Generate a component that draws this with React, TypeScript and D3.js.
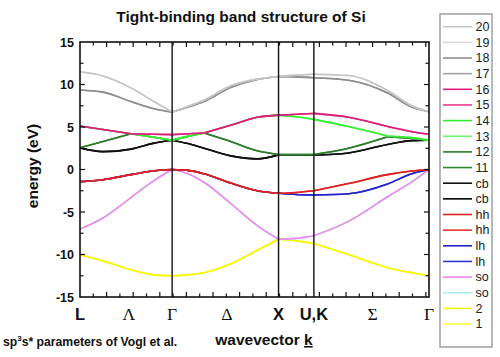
import React from "react";
import * as d3 from "d3";

// k positions along the path L - Γ - X - U,K - Γ (units of 2π/a)
const kGrid = [0, 0.216, 0.479, 0.695, 0.866, 1.015, 1.165, 1.416, 1.666, 1.866, 2.032, 2.198, 2.523, 2.891, 3.118, 3.28];
// indices where curves are broken: symmetry points, and band crossings
const symIdx = [0, 4, 9, 11, 15];
const crossIdx = [0, 2, 4, 6, 9, 11, 13, 15];

const symLabels = ["L", "Λ", "Γ", "Δ", "X", "U,K", "Σ", "Γ"];
const symLabelK = [0, 0.46, 0.866, 1.38, 1.866, 2.198, 2.75, 3.28];
const symLineK = [0.866, 1.866, 2.198];
const yTickValues = [-15, -10, -5, 0, 5, 10, 15];

// energies (eV) at kGrid
const band1 = [-10.05, -10.75, -11.8, -12.4, -12.5, -12.4, -12.15, -11.1, -9.5, -8.2, -8.4, -8.7, -10.0, -11.55, -12.15, -12.5];
const bandSo = [-7.0, -5.7, -3.3, -1.3, 0, -0.5, -1.5, -4.0, -6.6, -8.2, -8.1, -7.8, -6.1, -3.2, -1.45, 0];
const bandLh = [-1.43, -1.2, -0.6, -0.15, 0, -0.1, -0.5, -1.6, -2.5, -2.8, -2.95, -3.0, -2.85, -1.7, -0.5, 0];
const bandHh = [-1.43, -1.2, -0.6, -0.15, 0, -0.1, -0.5, -1.6, -2.5, -2.8, -2.7, -2.5, -1.65, -0.6, -0.18, 0];
const bandCb = [2.55, 2.1, 2.4, 3.1, 3.45, 3.05, 2.5, 1.6, 1.25, 1.72, 1.7, 1.68, 1.95, 2.95, 3.4, 3.45];
const band11 = [2.55, 3.3, 4.2, 3.8, 3.45, 3.9, 4.3, 3.3, 2.2, 1.75, 1.75, 1.75, 2.5, 3.85, 3.65, 3.45];
const band13 = [5.1, 4.7, 4.2, 3.8, 3.45, 3.9, 4.3, 5.2, 6.15, 6.4, 6.2, 5.9, 5.05, 3.95, 3.75, 3.45];
const band15 = [5.1, 4.7, 4.2, 4.15, 4.1, 4.2, 4.3, 5.2, 6.15, 6.4, 6.5, 6.6, 6.15, 5.05, 4.45, 4.15];
const band17 = [9.35, 9.1, 8.0, 7.15, 6.75, 7.35, 8.0, 9.65, 10.6, 10.95, 10.9, 10.8, 10.5, 9.0, 7.35, 6.8];
const band19 = [11.5, 11.0, 9.6, 8.0, 6.75, 7.45, 8.15, 9.85, 10.65, 10.95, 11.1, 11.2, 11.05, 9.3, 7.5, 6.8];

// legend, top to bottom
const legendLabels = ["20", "19", "18", "17", "16", "15", "14", "13", "12", "11", "cb", "cb", "hh", "hh", "lh", "lh", "so", "so", "2", "1"];
const legendColors = [
  "#c4c4c4", "#dadada", "#8e8e8e", "#a2a2a2",
  "#dd1f78", "#ee3a92", "#33ee33", "#6cf56c",
  "#2f7a2f", "#2a8f2a", "#111111", "#000000",
  "#dd2020", "#e83434", "#2323c8", "#3535d8",
  "#ee86ee", "#aaf0f0", "#f7f700", "#ffff40",
];
const legendSeries = [band19, band19, band17, band17, band15, band15, band13, band13, band11, band11, bandCb, bandCb, bandHh, bandHh, bandLh, bandLh, bandSo, bandSo, band1, band1];
const legendCrosses = [false, false, false, false, true, true, true, true, true, true, false, false, false, false, false, false, false, false, false, false];

export default function App() {
  const W = 500, H = 357;
  const left = 80, right = 429, top = 42, bottom = 297;
  const x = d3.scaleLinear().domain([0, 3.28]).range([left, right]);
  const y = d3.scaleLinear().domain([-15, 15]).range([bottom, top]);
  const line = d3.line<[number, number]>().x((d) => x(d[0])).y((d) => y(d[1])).curve(d3.curveMonotoneX);

  const pathFor = (vals: number[], breaks: number[]) => {
    let dStr = "";
    for (let s = 0; s < breaks.length - 1; s++) {
      const pts: [number, number][] = [];
      for (let i = breaks[s]; i <= breaks[s + 1]; i++) pts.push([kGrid[i], vals[i]]);
      dStr += line(pts) || "";
    }
    return dStr;
  };

  const xTicks = d3.range(1, 27).map((i) => i * 0.125).filter((v) => v < 3.27);
  const yMinor = d3.range(-12.5, 15, 5);
  const sans = "'Liberation Sans', Arial, sans-serif";
  const serif = "'Liberation Serif', 'Times New Roman', serif";

  const drawOrder = d3.range(legendLabels.length).reverse();
  const legTop = 26.7, legStep = 15.65;

  return (
    <svg width={W} height={H} style={{ position: "absolute", left: 0, top: 0, background: "#fff" }} fontFamily={sans}>
      <rect x={0} y={0} width={W} height={H} fill="#fff" />
      <text x={241} y={22} textAnchor="middle" fontSize={15.5} fontWeight="bold" fill="#111">Tight-binding band structure of Si</text>

      <defs>
        <clipPath id="plotclip"><rect x={left} y={top} width={right - left} height={bottom - top} /></clipPath>
      </defs>
      <g clipPath="url(#plotclip)">
        {drawOrder.map((i) => (
          <path key={i} d={pathFor(legendSeries[i], legendCrosses[i] ? crossIdx : symIdx)} fill="none" stroke={legendColors[i]} strokeWidth={1.6} />
        ))}
      </g>

      {symLineK.map((k, i) => (
        <line key={i} x1={x(k)} x2={x(k)} y1={top} y2={bottom} stroke="#111" strokeWidth={1.4} />
      ))}

      {xTicks.map((k, i) => {
        const len = Math.abs((k / 0.25) - Math.round(k / 0.25)) < 1e-6 ? 5 : 3.5;
        return (
          <g key={i} stroke="#111" strokeWidth={1.2}>
            <line x1={x(k)} x2={x(k)} y1={top} y2={top + len} />
            <line x1={x(k)} x2={x(k)} y1={bottom} y2={bottom - len} />
          </g>
        );
      })}
      {yTickValues.slice(1, -1).map((v, i) => (
        <g key={i} stroke="#111" strokeWidth={1.2}>
          <line x1={left} x2={left + 5} y1={y(v)} y2={y(v)} />
          <line x1={right} x2={right - 5} y1={y(v)} y2={y(v)} />
        </g>
      ))}
      {yMinor.map((v, i) => (
        <g key={i} stroke="#111" strokeWidth={1.2}>
          <line x1={left} x2={left + 3.5} y1={y(v)} y2={y(v)} />
          <line x1={right} x2={right - 3.5} y1={y(v)} y2={y(v)} />
        </g>
      ))}
      <rect x={left} y={top} width={right - left} height={bottom - top} fill="none" stroke="#111" strokeWidth={1.6} />

      {yTickValues.map((v, i) => (
        <text key={i} x={74} y={y(v) + 4.5} textAnchor="end" fontSize={12.5} fontWeight="bold" fill="#111">{v}</text>
      ))}

      {symLabels.map((s, i) => {
        const greek = /[ΛΓΔΣ]/.test(s);
        return (
          <text key={i} x={x(symLabelK[i])} y={320} textAnchor="middle"
            fontFamily={greek ? serif : sans} fontWeight={greek ? "normal" : "bold"}
            fontSize={greek ? 17.5 : 16.5} fill="#111">{s}</text>
        );
      })}

      <text transform="translate(38,166) rotate(-90)" textAnchor="middle" fontSize={15.5} fontWeight="bold" fill="#111">energy (eV)</text>
      <text x={264} y={345} textAnchor="middle" fontSize={15.5} fontWeight="bold" fill="#111">
        wavevector <tspan textDecoration="underline">k</tspan>
      </text>
      <text x={3} y={346} fontSize={12.2} fontWeight="bold" fill="#111">
        sp<tspan dy={-5} fontSize={8}>3</tspan><tspan dy={5}>s* parameters of Vogl et al.</tspan>
      </text>

      <rect x={440} y={14} width={52} height={333} fill="#fff" stroke="#a0a0a0" strokeWidth={1.5} />
      {legendLabels.map((l, i) => {
        const yy = legTop + i * legStep;
        return (
          <g key={i}>
            <line x1={443} x2={472} y1={yy} y2={yy} stroke={legendColors[i]} strokeWidth={1.6} />
            <text x={475.5} y={yy + 4.3} fontSize={12.5} fill="#222">{l}</text>
          </g>
        );
      })}
    </svg>
  );
}
